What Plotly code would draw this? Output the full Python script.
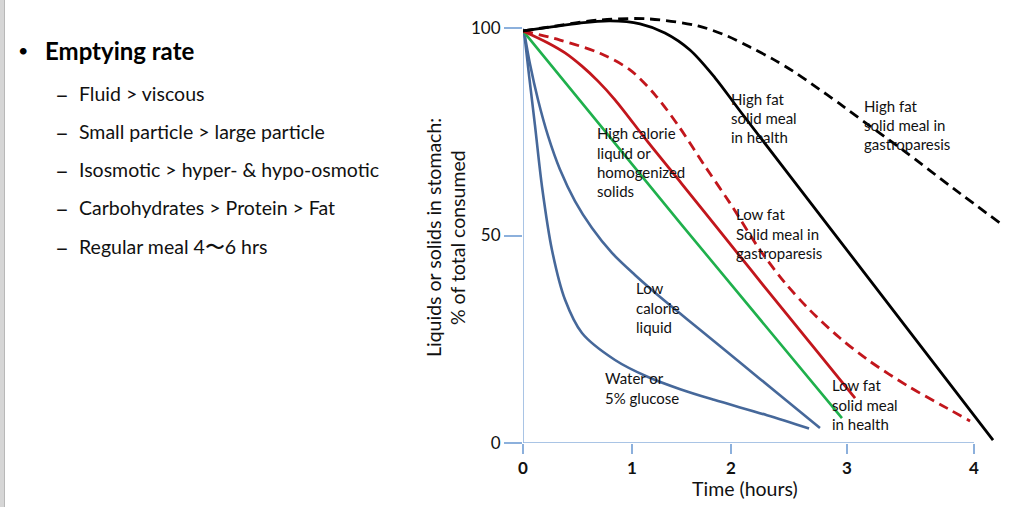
import plotly.graph_objects as go

# ---------------- data (x in axis units, y in % of total consumed) ----------------
X_TICK_POS = [0, 0.967, 1.845, 2.874, 4.0]
X_TICK_TEXT = ["0", "1", "2", "3", "4"]
Y_TICK_POS = [0, 50, 100]
Y_TICK_TEXT = ["0", "50", "100"]

water_x = [0.009, 0.053, 0.106, 0.169, 0.257, 0.373, 0.523, 0.816, 1.109, 1.401, 1.694, 2.164, 2.537]
water_y = [99.3, 88.7, 76.6, 61.7, 46.5, 34.5, 26.5, 20.0, 15.9, 12.9, 10.4, 6.7, 3.5]

lowcal_x = [0.009, 0.062, 0.133, 0.222, 0.328, 0.461, 0.612, 0.789, 0.993, 1.259, 1.570, 1.925, 2.279, 2.634]
lowcal_y = [99.3, 91.3, 82.7, 74.0, 65.9, 58.3, 51.8, 45.8, 40.5, 34.2, 27.3, 19.4, 11.5, 3.6]

highcal_x = [0, 1.40, 2.829]
highcal_y = [99.3, 52.8, 6.0]

lowfat_health_x = [0, 0.222, 0.373, 0.523, 0.665, 0.816, 1.109, 1.410, 1.703, 2.164, 2.945]
lowfat_health_y = [99.3, 96.4, 94.0, 90.8, 87.2, 82.7, 72.5, 62.4, 52.5, 36.9, 10.8]

lowfat_gp_x = [0, 0.328, 0.683, 0.949, 1.171, 1.392, 1.614, 1.836, 2.102, 2.324, 2.545, 2.811, 3.060, 3.415, 3.760, 3.965]
lowfat_gp_y = [99.3, 97.1, 93.9, 89.9, 83.9, 75.9, 66.7, 57.8, 46.5, 38.6, 32.0, 25.3, 20.0, 13.7, 8.4, 5.3]

highfat_health_x = [0, 0.239, 0.506, 0.772, 1.038, 1.259, 1.481, 1.703, 1.925, 2.723, 3.432, 4.169]
highfat_health_y = [99.3, 100.2, 101.2, 101.7, 101.0, 98.8, 94.7, 88.0, 80.0, 51.8, 26.7, 0.7]

highfat_gp_x = [0, 0.222, 0.665, 1.109, 1.552, 1.809, 2.013, 2.217, 2.395, 2.572, 2.811, 3.016, 3.370, 3.814, 4.231]
highfat_gp_y = [99.3, 100.2, 101.9, 102.2, 100.5, 98.1, 95.4, 92.5, 89.6, 86.3, 81.7, 77.6, 70.6, 61.4, 53.0]

BULLET_TITLE = "Emptying rate"
BULLET_ITEMS = [
    "Fluid > viscous",
    "Small particle > large particle",
    "Isosmotic > hyper- & hypo-osmotic",
    "Carbohydrates > Protein > Fat",
    "Regular meal 4\u301c6 hrs",
]

# ---------------- layout geometry ----------------
W, H = 1017, 507
L, R, T, B = 523, 1005, 13, 443
PW, PH = R - L, B - T
PX_PER_X = 112.75
PX_PER_Y = 4.15

def px(p):
    return (p - L) / PW

def py(p):
    return (B - p) / PH

BLUE = "#46689a"
GREEN = "#1fb04c"
RED = "#c2161c"
BLACK = "#000000"
AXIS = "#8cb0dc"
TEXT = "#111111"
FONT = "Lato"

fig = go.Figure()

def add(x, y, color, dash="solid", width=2.8, smoothing=0.9):
    fig.add_trace(go.Scatter(
        x=x, y=y, mode="lines",
        line=dict(color=color, width=width, dash=dash, shape="spline", smoothing=smoothing),
        hoverinfo="skip", showlegend=False))

add(water_x, water_y, BLUE, width=2.6, smoothing=0.9)
add(lowcal_x, lowcal_y, BLUE, width=2.6, smoothing=0.9)
add(highcal_x, highcal_y, GREEN, width=2.6, smoothing=0)
add(lowfat_health_x, lowfat_health_y, RED, width=2.8)
add(lowfat_gp_x, lowfat_gp_y, RED, dash="10px,6px", width=2.8)
add(highfat_health_x, highfat_health_y, BLACK, width=2.8)
add(highfat_gp_x, highfat_gp_y, BLACK, dash="10px,6px", width=2.8)

shapes = [
    dict(type="line", xref="x", yref="y", x0=0, x1=X_TICK_POS[-1], y0=0, y1=0,
         line=dict(color=AXIS, width=1.5), layer="below"),
    dict(type="line", xref="x", yref="y", x0=0, x1=0, y0=0, y1=Y_TICK_POS[-1],
         line=dict(color=AXIS, width=1.5), layer="below"),
    dict(type="rect", xref="paper", yref="paper", x0=px(0), x1=px(4), y0=py(507), y1=py(0),
         fillcolor="#d6d6d6", line=dict(width=0)),
    dict(type="line", xref="paper", yref="paper", x0=px(4.5), x1=px(4.5), y0=py(507), y1=py(0),
         line=dict(color="#b8b8b8", width=1)),
]

annotations = []

def label(text, x, y, size=14, bold=False, xanchor="left", color=TEXT, angle=0):
    t = f"<b>{text}</b>" if bold else text
    annotations.append(dict(text=t, xref="paper", yref="paper", x=px(x), y=py(y),
                            xanchor=xanchor, yanchor="middle", showarrow=False,
                            textangle=angle,
                            font=dict(family=FONT, size=size, color=color)))

chart_labels = [
    (["High calorie", "liquid or", "homogenized", "solids"], 595, [133, 153, 172, 191]),
    (["High fat", "solid meal", "in health"], 729, [99, 118, 137]),
    (["High fat", "solid meal in", "gastroparesis"], 862, [106, 125, 144]),
    (["Low fat", "Solid meal in", "gastroparesis"], 734, [214, 234, 253]),
    (["Low", "calorie", "liquid"], 634, [288, 308, 327]),
    (["Water or", "5% glucose"], 603, [378, 398]),
    (["Low fat", "solid meal", "in health"], 830, [385, 405, 424]),
]
for lines, x, ys in chart_labels:
    for t, y in zip(lines, ys):
        label(t, x, y, size=15)

label("Liquids or solids in stomach:", 433, 238, size=19.5, xanchor="center", angle=-90)
label("% of total consumed", 457, 238, size=19.5, xanchor="center", angle=-90)
label("Time (hours)", 745, 488, size=19.5, xanchor="center")

label("\u2022", 16, 50, size=18, color="#000000")
label(BULLET_TITLE, 43, 50, size=24, bold=True, color="#000000")
for i, item in enumerate(BULLET_ITEMS):
    y = 93 + i * 38.3
    label("\u2013", 53, y, size=24, color=TEXT)
    label(item, 77, y, size=19.5, color=TEXT)

fig.update_layout(
    width=W, height=H,
    margin=dict(l=L, r=W - R, t=T, b=H - B, pad=0),
    paper_bgcolor="white", plot_bgcolor="white",
    showlegend=False,
    shapes=shapes,
    annotations=annotations,
    xaxis=dict(range=[0, PW / PX_PER_X], tickvals=X_TICK_POS, ticktext=X_TICK_TEXT,
               ticks="outside", ticklen=10, tickwidth=1.5, tickcolor=AXIS,
               showgrid=False, zeroline=False, showline=False, fixedrange=True,
               tickfont=dict(family=FONT, size=17, color=TEXT, weight="bold")),
    yaxis=dict(range=[0, PH / PX_PER_Y], tickvals=Y_TICK_POS, ticktext=Y_TICK_TEXT,
               ticks="outside", ticklen=18, tickwidth=1.5, tickcolor=AXIS,
               showgrid=False, zeroline=False, showline=False, fixedrange=True,
               tickfont=dict(family=FONT, size=17, color=TEXT)),
)

fig.write_html("out.html")
